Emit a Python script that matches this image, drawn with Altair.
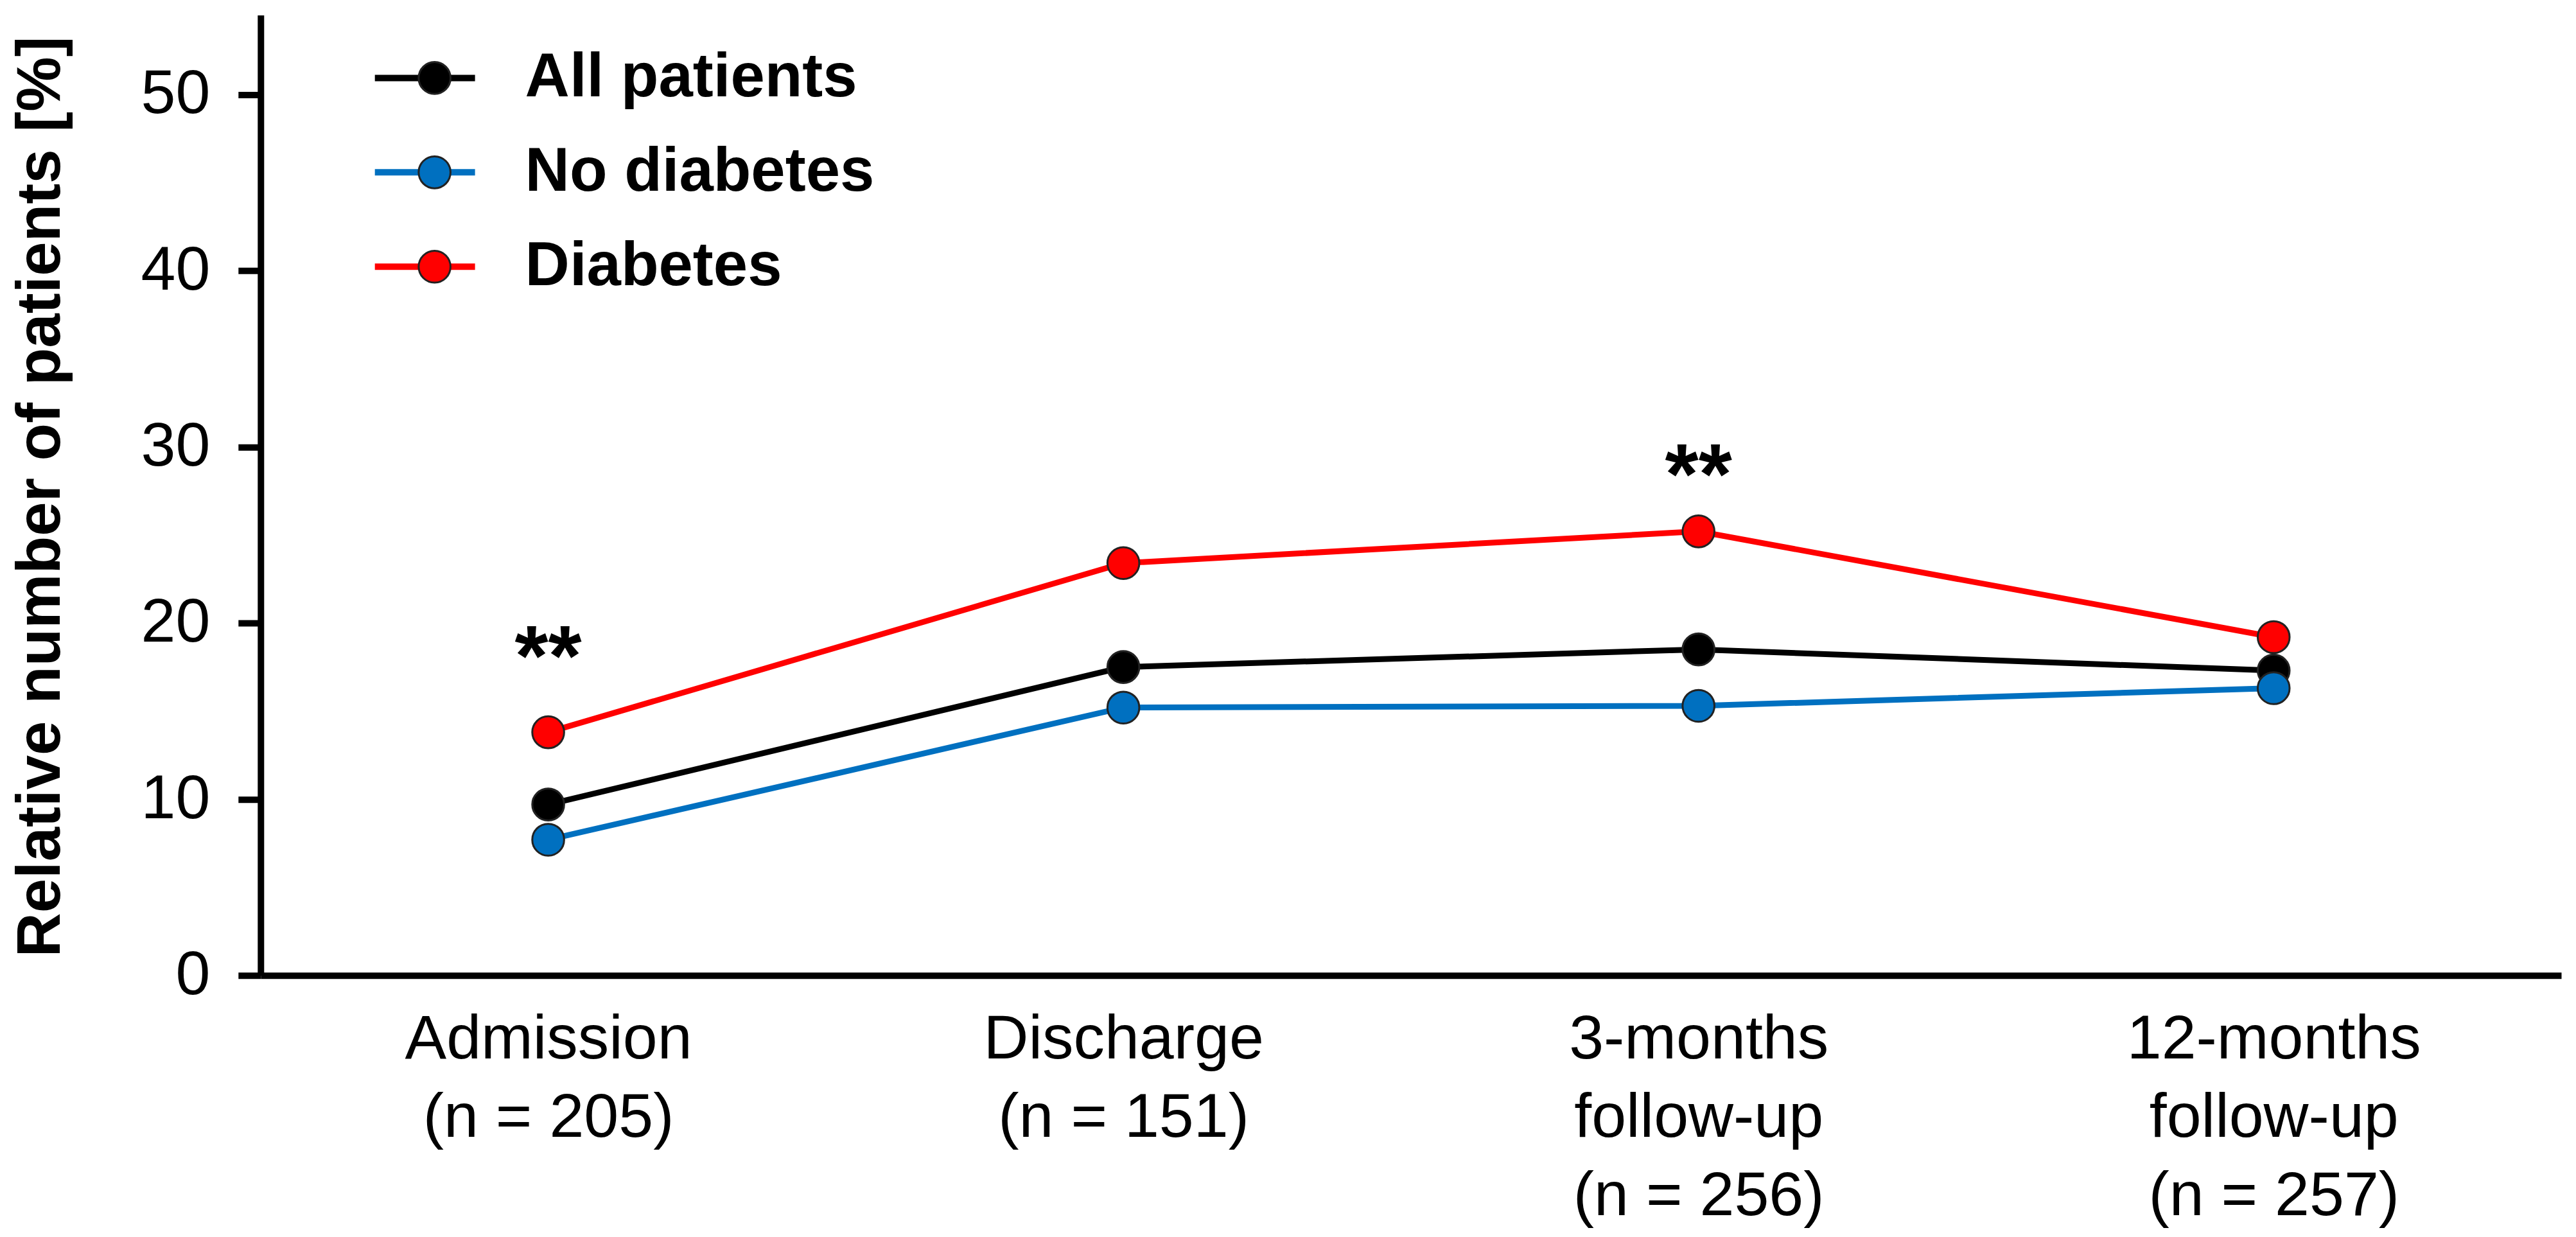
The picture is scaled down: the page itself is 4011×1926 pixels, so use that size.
import altair as alt
import pandas as pd

# ---- data ----
categories = [
    "Admission\n(n = 205)",
    "Discharge\n(n = 151)",
    "3-months\nfollow-up\n(n = 256)",
    "12-months\nfollow-up\n(n = 257)",
]
series_names = ["All patients", "No diabetes", "Diabetes"]
all_patients = [9.7, 17.5, 18.5, 17.3]
no_diabetes = [7.7, 15.2, 15.3, 16.3]
diabetes = [13.8, 23.4, 25.2, 19.2]
series_colors = ["#000000", "#0070C0", "#FF0000"]
sig_marks = ["**", "", "**", ""]
sig_level = [19.2, None, 29.5, None]
y_ticks = [0, 10, 20, 30, 40, 50]

rows = []
for name, vals in zip(series_names, [all_patients, no_diabetes, diabetes]):
    for c, v in zip(categories, vals):
        rows.append({"time": c, "value": v, "series": name, "series_pt": name})
df = pd.DataFrame(rows)

sig = pd.DataFrame({"time": categories, "mark": sig_marks, "value": sig_level}).dropna()

FONT = "Liberation Sans"
W, H = 3584, 1496

x_enc = alt.X(
    "time:N",
    sort=categories,
    scale=alt.Scale(type="point", padding=0.5),
    axis=alt.Axis(
        title=None,
        labelExpr="split(datum.label, '\\n')",
        labelFont=FONT,
        labelFontSize=97,
        labelColor="black",
        labelLineHeight=122,
        labelAngle=0,
        labelPadding=52,
        labelLimit=2000,
        labelOverlap=False,
        ticks=False,
        domainColor="black",
        domainWidth=10,
        grid=False,
    ),
)

y_enc = alt.Y(
    "value:Q",
    scale=alt.Scale(domain=[0, 54.5], nice=False, zero=True),
    axis=alt.Axis(
        values=y_ticks,
        title="Relative number of patients [%]",
        titleFont=FONT,
        titleFontSize=96,
        titleFontWeight="bold",
        titleColor="black",
        titleAngle=270,
        titleBaseline="alphabetic",
        titleAlign="center",
        titleX=-313,
        titleY=750,
        labelFont=FONT,
        labelFontSize=97,
        labelColor="black",
        labelPadding=44,
        tickSize=35,
        tickWidth=10,
        tickColor="black",
        domainColor="black",
        domainWidth=10,
        grid=False,
    ),
)

line_legend = alt.Legend(
    title=None,
    orient="none",
    legendX=208,
    legendY=50,
    padding=0,
    symbolType="M-1.95,0L1.95,0",
    symbolSize=6400,
    symbolStrokeWidth=10,
    symbolOffset=0,
    labelFont=FONT,
    labelFontSize=96,
    labelFontWeight="bold",
    labelColor="black",
    labelOffset=108,
    labelLimit=2000,
    rowPadding=51,
)

point_legend = alt.Legend(
    title=None,
    orient="none",
    legendX=223,
    legendY=50,
    padding=0,
    symbolType="circle",
    symbolSize=2463,
    symbolStrokeColor="#222222",
    symbolStrokeWidth=3,
    symbolOpacity=1,
    symbolOffset=0,
    labelFont=FONT,
    labelFontSize=96,
    labelFontWeight="bold",
    labelExpr="''",
    labelLimit=2000,
    rowPadding=51,
)

lines = alt.Chart(df).mark_line(strokeWidth=9).encode(
    x=x_enc,
    y=y_enc,
    stroke=alt.Stroke(
        "series:N",
        sort=series_names,
        scale=alt.Scale(domain=series_names, range=series_colors),
        legend=line_legend,
    ),
)

points = alt.Chart(df).mark_circle(
    size=2463, opacity=1, stroke="#222222", strokeWidth=3
).encode(
    x=x_enc,
    y=y_enc,
    fill=alt.Fill(
        "series_pt:N",
        sort=series_names,
        scale=alt.Scale(range=series_colors),
        legend=point_legend,
    ),
)

stars = alt.Chart(sig).mark_text(
    font=FONT, fontSize=134, fontWeight="bold", baseline="alphabetic",
    align="center", dy=75, color="black"
).encode(
    x=x_enc,
    y=y_enc,
    text="mark:N",
)

chart = alt.layer(lines, points, stars).properties(
    width=W,
    height=H,
    autosize=alt.AutoSizeParams(type="none"),
    padding={"left": 398, "top": 15, "right": 15, "bottom": 395},
    background="white",
).configure_view(stroke=None)

chart.save("out.html", embed_options={"renderer": "svg", "actions": False})
